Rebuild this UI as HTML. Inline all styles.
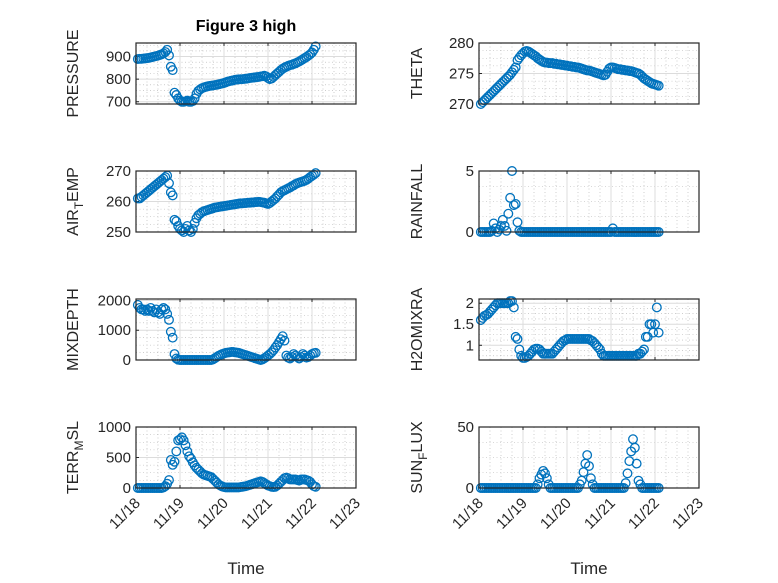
<!DOCTYPE html>
<html><head><meta charset="utf-8"><style>
html,body{margin:0;padding:0;background:#fff}
svg{display:block;font-family:"Liberation Sans","DejaVu Sans",sans-serif}
</style></head><body>
<svg id="fig" width="778" height="583" viewBox="0 0 778 583" xmlns="http://www.w3.org/2000/svg">
<rect width="778" height="583" fill="#fff"/>
<text x="246" y="31" font-size="16" font-weight="bold" text-anchor="middle" fill="#000">Figure 3 high</text>
</svg>
<script>
const hours=[1,2,3,4,5,6,7,8,9,10,11,12,13,14,15,16,17,18,19,20,21,22,23,24,25,26,27,28,29,30,31,32,33,34,35,36,37,38,39,40,41,42,43,44,45,46,47,48,49,50,51,52,53,54,55,56,57,58,59,60,61,62,63,64,65,66,67,68,69,70,71,72,73,74,75,76,77,78,79,80,81,82,83,84,85,86,87,88,89,90,91,92,93,94,95,96,97,98];
const pressure=[889,890,890,891,892,893,894,896,898,900,
902,904,907,910,914,920,930,905,855,840,
740,730,715,705,700,700,702,705,700,700,
703,715,735,748,755,760,763,766,768,770,
771,772,774,775,777,779,781,783,786,789,
791,793,795,797,798,799,800,800,801,802,
803,805,806,807,808,809,810,812,813,815,
812,805,800,803,810,818,825,832,840,846,
851,855,859,862,864,867,870,874,878,883,
888,893,898,904,910,918,930,945];
const airTemp=[261,261,261.5,262,262.5,263,263.5,264,264.5,265,
265.5,266,266.5,267,267.5,268,268.5,266,263,262,
254,253.5,252,251,250.5,250,251,252,250.5,250,
251,253,254.5,255.5,256,256.5,256.8,257,257.2,257.4,
257.6,257.8,258,258.1,258.2,258.3,258.4,258.5,258.6,258.7,
258.8,258.9,259,259.1,259.2,259.3,259.4,259.4,259.5,259.5,
259.6,259.6,259.7,259.7,259.8,259.8,259.9,259.8,259.7,259.6,
259.4,259.2,259.5,260,260.5,261,261.7,262.3,263,263.4,
263.7,264,264.3,264.6,265,265.3,265.7,266,266.2,266.4,
266.6,266.8,267.1,267.5,268,268.4,268.8,269.3];
const theta=[270,270.3,270.6,270.9,271.2,271.5,271.8,272.1,272.4,272.7,
273,273.3,273.6,273.9,274.2,274.5,274.8,275.2,275.6,276,
277.2,277.6,278,278.3,278.6,278.7,278.6,278.4,278.2,278,
277.8,277.5,277.3,277.1,276.9,276.8,276.8,276.7,276.7,276.7,
276.6,276.6,276.5,276.5,276.4,276.4,276.3,276.3,276.2,276.2,
276.1,276.1,276,276,275.9,275.8,275.7,275.6,275.5,275.5,
275.4,275.3,275.2,275.1,275,274.9,274.8,274.7,274.8,275.3,
275.8,276,276,275.9,275.8,275.7,275.7,275.6,275.6,275.5,
275.5,275.4,275.4,275.3,275.2,275.1,275,274.8,274.5,274.2,
274,273.8,273.6,273.4,273.3,273.2,273.1,273];
const rainfall=[0,0,0,0,0,0,0.1,0.7,0.3,0,
0.2,0.5,1.0,0.5,0.1,1.5,2.8,5,2.2,2.3,
0.8,0.1,0,0,0,0,0,0,0,0,
0,0,0,0,0,0,0,0,0,0,
0,0,0,0,0,0,0,0,0,0,
0,0,0,0,0,0,0,0,0,0,
0,0,0,0,0,0,0,0,0,0,
0,0,0.3,0,0,0,0,0,0,0,
0,0,0,0,0,0,0,0,0,0,
0,0,0,0,0,0,0,0];
const mixDepth=[1850,1750,1700,1700,1650,1700,1650,1750,1650,1600,
1700,1600,1550,1700,1750,1700,1550,1350,950,750,
200,50,10,0,0,0,0,0,0,0,
0,0,0,0,0,0,0,0,0,0,
0,20,60,100,140,170,200,220,240,250,
260,270,270,260,250,240,220,200,180,160,
140,120,100,80,60,40,20,0,20,60,
100,150,200,260,330,420,500,600,700,800,
650,150,80,50,100,200,150,100,50,100,
200,150,80,100,150,200,230,240];
const h2oMix=[1.6,1.65,1.7,1.72,1.75,1.8,1.85,1.9,1.95,2.0,
2.0,2.0,2.0,2.0,2.0,2.0,2.05,2.05,1.9,1.2,
1.15,0.9,0.75,0.7,0.7,0.72,0.75,0.8,0.85,0.9,
0.92,0.92,0.9,0.85,0.8,0.8,0.8,0.8,0.8,0.8,
0.85,0.9,0.95,1.0,1.05,1.1,1.12,1.15,1.15,1.15,
1.15,1.15,1.15,1.15,1.15,1.15,1.15,1.15,1.15,1.15,
1.12,1.1,1.05,1.0,0.95,0.9,0.8,0.75,0.75,0.75,
0.75,0.75,0.75,0.75,0.75,0.75,0.75,0.75,0.75,0.75,
0.75,0.75,0.75,0.75,0.75,0.75,0.8,0.8,0.85,0.9,
1.2,1.2,1.5,1.5,1.3,1.5,1.9,1.3];
const terrMsl=[0,0,0,0,0,0,0,0,0,0,
0,0,0,0,10,30,70,130,460,380,
430,600,780,800,830,780,700,600,520,480,
420,370,330,300,270,240,220,210,200,190,
180,150,120,90,60,40,25,15,10,10,
10,10,10,10,10,10,15,20,25,30,
40,50,60,70,80,90,100,110,100,80,
60,40,30,20,15,20,40,70,100,130,
160,170,160,140,140,140,140,130,120,140,
140,140,130,120,100,60,30,20];
const sunFlux=[0,0,0,0,0,0,0,0,0,0,
0,0,0,0,0,0,0,0,0,0,
0,0,0,0,0,0,0,0,0,0,
0,3,8,11,14,12,8,3,0,0,
0,0,0,0,0,0,0,0,0,0,
0,0,0,0,3,6,13,20,27,18,
8,3,0,0,0,0,0,0,0,0,
0,0,0,0,0,0,0,0,0,4,
12,22,30,40,33,20,6,3,0,0,
0,0,0,0,0,0,0,0];
const dayLabels=["11/18","11/19","11/20","11/21","11/22","11/23"];

const NS="http://www.w3.org/2000/svg";
const svg=document.getElementById('fig');
function mk(tag,attrs,parent){const e=document.createElementNS(NS,tag);for(const k in attrs)e.setAttribute(k,attrs[k]);(parent||svg).appendChild(e);return e;}

const panels=[
 {name:'pressure',data:pressure,col:0,row:0,ymin:690,ymax:960,ticks:[700,800,900],minor:25,label:['PRESSURE']},
 {name:'theta',data:theta,col:1,row:0,ymin:270,ymax:280,ticks:[270,275,280],minor:1.25,label:['THETA']},
 {name:'air-temp',data:airTemp,col:0,row:1,ymin:250,ymax:270,ticks:[250,260,270],minor:2.5,label:['AIR','T','EMP']},
 {name:'rainfall',data:rainfall,col:1,row:1,ymin:0,ymax:5,ticks:[0,5],minor:1.25,label:['RAINFALL']},
 {name:'mix-depth',data:mixDepth,col:0,row:2,ymin:0,ymax:2050,ticks:[0,1000,2000],minor:250,label:['MIXDEPTH']},
 {name:'h2o-mix',data:h2oMix,col:1,row:2,ymin:0.65,ymax:2.1,ticks:[1,1.5,2],minor:0.125,label:['H2OMIXRA']},
 {name:'terr-msl',data:terrMsl,col:0,row:3,ymin:0,ymax:1000,ticks:[0,500,1000],minor:125,label:['TERR','M','SL']},
 {name:'sun-flux',data:sunFlux,col:1,row:3,ymin:0,ymax:50,ticks:[0,50],minor:12.5,label:['SUN','F','LUX']}
];
const colX=[136,479], W=220, rowY=[43,171,299,427], H=61;

panels.forEach(p=>{
 const x0=colX[p.col], y0=rowY[p.row];
 const g=mk('g',{});
 
 
 const xs=d=>x0+W*d/5;
 const ys=v=>y0+H-(v-p.ymin)/(p.ymax-p.ymin)*H;
 mk('rect',{x:x0,y:y0,width:W,height:H,fill:'#fff'},g);
 for(let d=0;d<5;d+=0.25){if(d%1===0)continue;mk('line',{x1:xs(d),x2:xs(d),y1:y0,y2:y0+H,stroke:'#b0b0b0','stroke-width':0.6,'stroke-dasharray':'1 2.5'},g);}
 const start=Math.ceil(p.ymin/p.minor)*p.minor;
 for(let v=start;v<=p.ymax+1e-9;v+=p.minor){if(p.ticks.some(t=>Math.abs(t-v)<1e-9))continue;mk('line',{x1:x0,x2:x0+W,y1:ys(v),y2:ys(v),stroke:'#b0b0b0','stroke-width':0.6,'stroke-dasharray':'1 2.5'},g);}
 for(let d=1;d<5;d++)mk('line',{x1:xs(d),x2:xs(d),y1:y0,y2:y0+H,stroke:'#dcdcdc','stroke-width':1},g);
 p.ticks.forEach(t=>mk('line',{x1:x0,x2:x0+W,y1:ys(t),y2:ys(t),stroke:'#dcdcdc','stroke-width':1},g));
 p.ticks.forEach(t=>{
  mk('line',{x1:x0,x2:x0+3,y1:ys(t),y2:ys(t),stroke:'#262626'},g);
  const tx=mk('text',{x:x0-5,y:ys(t)+5,'font-size':15,'text-anchor':'end',fill:'#262626'},g);
  
  
  tx.textContent=String(t);
 });
 for(let d=0;d<=5;d++){
  mk('line',{x1:xs(d),x2:xs(d),y1:y0+H,y2:y0+H-3,stroke:'#262626'},g);
  mk('line',{x1:xs(d),x2:xs(d),y1:y0,y2:y0+3,stroke:'#262626'},g);
 }
 hours.forEach((h,i)=>{
  const c=mk('circle',{cx:xs(h/24),cy:ys(p.data[i]),r:4.3,fill:'none',stroke:'#0072BD','stroke-width':1.3},g);
  
  
 });
 mk('rect',{x:x0,y:y0,width:W,height:H,fill:'none',stroke:'#262626','stroke-width':1.2},g);
 const lx=p.col===0?78:422, ly=y0+H/2;
 const lab=mk('text',{x:lx,y:ly,'font-size':16,'text-anchor':'middle',fill:'#262626',transform:`rotate(-90 ${lx} ${ly})`},g);
 
 
 if(p.label.length===1)lab.textContent=p.label[0];
 else{
  const a=mk('tspan',{},lab);a.textContent=p.label[0];
  const b=mk('tspan',{dy:5,'font-size':12},lab);b.textContent=p.label[1];
  const c=mk('tspan',{dy:-5},lab);c.textContent=p.label[2];
 }
 if(p.row===3){
  dayLabels.forEach((s,d)=>{
   const tx=xs(d)+5, ty=y0+H+16;
   const t=mk('text',{x:tx,y:ty,'font-size':15,'text-anchor':'end',fill:'#262626',transform:`rotate(-45 ${tx} ${ty})`},g);
   
   
   t.textContent=s;
  });
  const xt=mk('text',{x:x0+W/2,y:574,'font-size':17,'text-anchor':'middle',fill:'#262626'},g);
  
  
  xt.textContent='Time';
 }
});
</script>
</body></html>
